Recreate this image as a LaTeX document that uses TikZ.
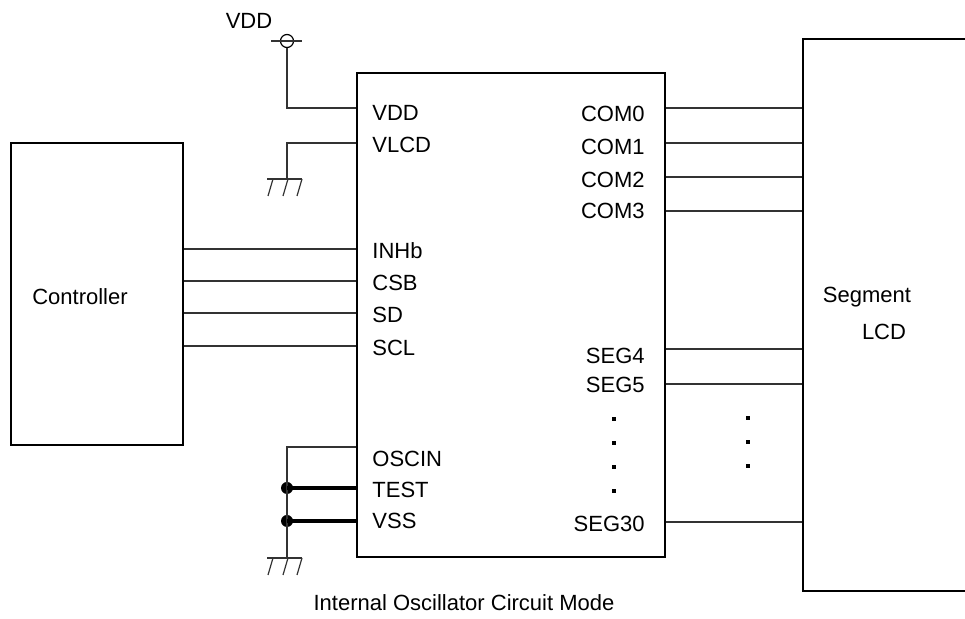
\documentclass[tikz,border=0pt]{standalone}
\usepackage{fontspec}
\setmainfont{Liberation Sans}
\tikzset{
	blockbox/.style={rectangle, draw=black, line width=0.7pt, inner sep=0pt},
	pinlabel/.style={inner sep=0pt, font=\fontsize{11}{13}\selectfont},
	wire/.style={line width=0.6pt, draw=black!80},
	thickwire/.style={line width=2pt, draw=black},
	joint/.style={circle, fill=black, inner sep=0pt, minimum size=6pt},
	pindot/.style={rectangle, fill=black, inner sep=0pt, minimum size=2pt},
}
\begin{document}
\begin{tikzpicture}[x=0.5pt, y=-0.5pt]
			\useasboundingbox (0,0) rectangle (965,619);

			% boxes
			\node[blockbox, minimum width=86pt, minimum height=151pt](ctrlBox) at (97,294){};
			\node[blockbox, minimum width=154pt, minimum height=242pt](chipBox) at (511,315){};
			\node[blockbox, minimum width=100pt, minimum height=276pt](lcdBox) at (903,315){};
			\node[pinlabel](ctrlText) at (80,297){Controller};
			\node[pinlabel](segText) at (867,297){Segment};
			\node[pinlabel](lcdText) at (884,332){LCD};

			% left pin labels
			\node[pinlabel, anchor=west](vddLabel) at (372,113){VDD};
			\node[pinlabel, anchor=west](vlcdLabel) at (372,145){VLCD};
			\node[pinlabel, anchor=west](inhbLabel) at (372,251){INHb};
			\node[pinlabel, anchor=west](csbLabel) at (372,283){CSB};
			\node[pinlabel, anchor=west](sdLabel) at (372,315){SD};
			\node[pinlabel, anchor=west](sclLabel) at (372,348){SCL};
			\node[pinlabel, anchor=west](oscinLabel) at (372,459){OSCIN};
			\node[pinlabel, anchor=west](testLabel) at (372,490){TEST};
			\node[pinlabel, anchor=west](vssLabel) at (372,521){VSS};

			% right pin labels
			\node[pinlabel, anchor=east](com0Label) at (645,114){COM0};
			\node[pinlabel, anchor=east](com1Label) at (645,147){COM1};
			\node[pinlabel, anchor=east](com2Label) at (645,180){COM2};
			\node[pinlabel, anchor=east](com3Label) at (645,211){COM3};
			\node[pinlabel, anchor=east](seg4Label) at (645,356){SEG4};
			\node[pinlabel, anchor=east](seg5Label) at (645,385){SEG5};
			\node[pinlabel, anchor=east](seg30Label) at (645,524){SEG30};

			% dots
			\node[pindot](dotA) at (614,419){};
			\node[pindot](dotB) at (614,443){};
			\node[pindot](dotC) at (614,467){};
			\node[pindot](dotD) at (614,491){};
			\node[pindot](dotE) at (748,418){};
			\node[pindot](dotF) at (748,442){};
			\node[pindot](dotG) at (748,466){};

			% controller bus
			\coordinate (inhbOut) at (ctrlBox.east |- 0,249);
			\coordinate (csbOut) at (ctrlBox.east |- 0,281);
			\coordinate (sdOut) at (ctrlBox.east |- 0,313);
			\coordinate (sclOut) at (ctrlBox.east |- 0,346);
			\coordinate (inhbPin) at (chipBox.west |- 0,249);
			\coordinate (csbPin) at (chipBox.west |- 0,281);
			\coordinate (sdPin) at (chipBox.west |- 0,313);
			\coordinate (sclPin) at (chipBox.west |- 0,346);
			\draw[wire] (inhbOut) -- (inhbPin);
			\draw[wire] (csbOut) -- (csbPin);
			\draw[wire] (sdOut) -- (sdPin);
			\draw[wire] (sclOut) -- (sclPin);

			% lcd bus
			\coordinate (com0Pin) at (chipBox.east |- 0,108);
			\coordinate (com1Pin) at (chipBox.east |- 0,143);
			\coordinate (com2Pin) at (chipBox.east |- 0,177);
			\coordinate (com3Pin) at (chipBox.east |- 0,211);
			\coordinate (seg4Pin) at (chipBox.east |- 0,349);
			\coordinate (seg5Pin) at (chipBox.east |- 0,384);
			\coordinate (seg30Pin) at (chipBox.east |- 0,522);
			\draw[wire] (com0Pin) -- (lcdBox.west |- com0Pin);
			\draw[wire] (com1Pin) -- (lcdBox.west |- com1Pin);
			\draw[wire] (com2Pin) -- (lcdBox.west |- com2Pin);
			\draw[wire] (com3Pin) -- (lcdBox.west |- com3Pin);
			\draw[wire] (seg4Pin) -- (lcdBox.west |- seg4Pin);
			\draw[wire] (seg5Pin) -- (lcdBox.west |- seg5Pin);
			\draw[wire] (seg30Pin) -- (lcdBox.west |- seg30Pin);

			% supply
			\node[pinlabel](vddSupply) at (249,21){VDD};
			\node[circle, draw=black, line width=0.6pt, minimum size=6.5pt, inner sep=0pt](vddTerm) at (287,41){};
			\draw[wire] (271,41) -- (302,41);
			\coordinate (vddPin) at (chipBox.west |- 0,108);
			\draw[wire] (vddTerm.south) |- (vddPin);

			% upper ground
			\coordinate (vlcdPin) at (chipBox.west |- 0,143);
			\coordinate (gndTop) at (287,179);
			\draw[wire] (vlcdPin) -| (gndTop);
			\draw[wire] (267,179) -- (302,179);
			\draw[wire] (273,179) -- (268,196);
			\draw[wire] (288,179) -- (283,196);
			\draw[wire] (302,179) -- (297,196);

			% oscillator and lower ground
			\coordinate (oscinPin) at (chipBox.west |- 0,447);
			\coordinate (testPin) at (chipBox.west |- 0,488);
			\coordinate (vssPin) at (chipBox.west |- 0,521);
			\coordinate (gndBot) at (287,558);
			\node[joint](testJoint) at (287,488){};
			\node[joint](vssJoint) at (287,521){};
			\draw[wire] (oscinPin) -| (gndBot);
			\draw[thickwire] (testJoint.center) -- (testPin);
			\draw[thickwire] (vssJoint.center) -- (vssPin);
			\draw[wire] (267,558) -- (302,558);
			\draw[wire] (273,558) -- (268,575);
			\draw[wire] (288,558) -- (283,575);
			\draw[wire] (302,558) -- (297,575);

			\node[pinlabel](caption) at (464,603){Internal Oscillator Circuit Mode};
		\end{tikzpicture}
\end{document}
